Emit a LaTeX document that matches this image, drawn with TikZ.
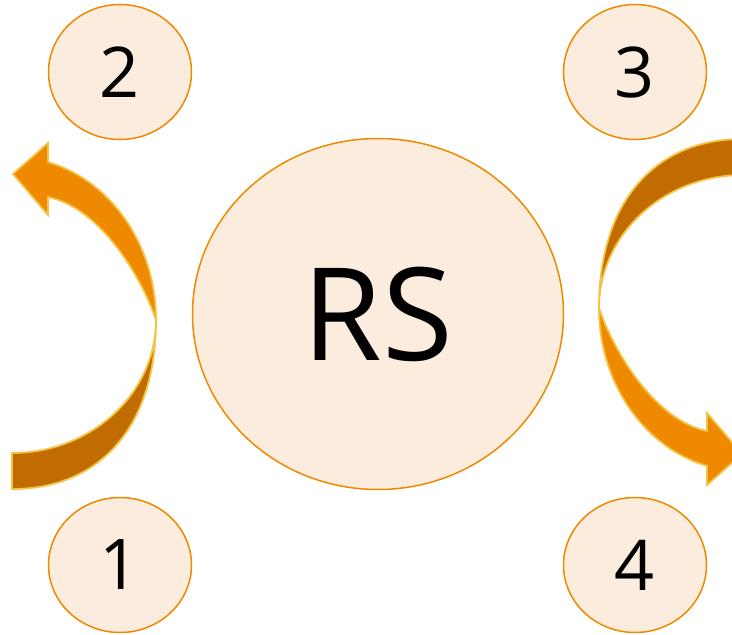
\documentclass[tikz,border=0pt]{standalone}
\usepackage{fontspec}
\setmainfont{Open Sans}
\usetikzlibrary{shapes.geometric}
\definecolor{ringline}{HTML}{EE8A00}
\definecolor{ringfill}{HTML}{FBECDD}
\definecolor{arrowlight}{HTML}{EE8900}
\definecolor{arrowdark}{HTML}{C06C00}
\definecolor{arrowedge}{HTML}{F5C342}
\tikzset{
  ring/.style={ellipse, draw=ringline, fill=ringfill, line width=1.5pt, inner sep=0pt},
  small/.style={ring, minimum width=143pt, minimum height=135pt, font=\fontsize{70}{80}\selectfont},
  big/.style={ring, minimum width=371pt, minimum height=351pt, font=\fontsize{129}{140}\selectfont},
  bandedge/.style={draw=arrowedge, line width=1.8pt, line join=miter},
}
% curved arrow drawn about its pinch level, y pointing down
\newcommand{\bentarrow}{%
  % back half of the band
  \filldraw[bandedge, fill=arrowdark] (0,169)
    .. controls (89.3,169) and (144,104.8) .. (144,0)
    arc[start angle=0, end angle=90, x radius=144, y radius=133] -- cycle;
  % front half with the head
  \filldraw[bandedge, fill=arrowlight] (144,0)
    arc[start angle=0, end angle=-75.5, x radius=144, y radius=163]
    -- (36,-177) -- (1,-146) -- (36,-105) -- (36,-123)
    .. controls (86,-113) and (128,-47.4) .. (144,0) -- cycle;
}
\begin{document}
\begin{tikzpicture}[x=1pt, y=-1pt]
  \clip (0,0) rectangle (732,635);
  \fill[white] (0,0) rectangle (732,635);
  \node[big] (rs) at (378,314) {RS};
  \node[small] (n2) at (120,72) {2};
  \node[small] (n3) at (635,72) {3};
  \node[small] (n1) at (120,565) {1};
  \node[small] (n4) at (635,565) {4};
  \begin{scope}[shift={(12,320)}]
    \bentarrow
  \end{scope}
  \begin{scope}[shift={(743,308)}, xscale=-1, yscale=-1]
    \bentarrow
  \end{scope}
\end{tikzpicture}
\end{document}
